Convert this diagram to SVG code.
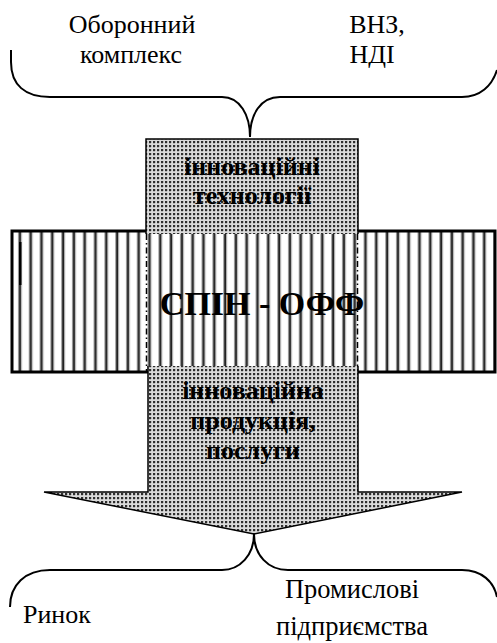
<svg xmlns="http://www.w3.org/2000/svg" width="497" height="643" viewBox="0 0 497 643">
<style>
.lbl{font-family:"Liberation Serif","Times New Roman",serif;font-size:26px;fill:#000;text-anchor:middle}
.bx{font-family:"Liberation Serif","Times New Roman",serif;font-size:26px;font-weight:bold;fill:#000;text-anchor:middle}
.big{font-family:"Liberation Serif","Times New Roman",serif;font-size:34px;font-weight:bold;fill:#000;text-anchor:middle}
.brace{fill:none;stroke:#000;stroke-width:2}
.edge{fill:none;stroke:#000;stroke-width:1.5}
</style>
<defs>
<pattern id="dots" x="0" y="0" width="4" height="4" patternUnits="userSpaceOnUse">
<rect width="4" height="4" fill="#dadada"/>
<rect x="1" y="1" width="2" height="2" fill="#2e2e2e"/>
<rect x="3" y="1" width="0.6" height="2" fill="#a0a0a0"/>
<rect x="1" y="3" width="2" height="0.6" fill="#a0a0a0"/>
</pattern>
<pattern id="stripes" x="12" y="0" width="10.8" height="10" patternUnits="userSpaceOnUse">
<rect width="10.8" height="10" fill="#fff"/>
<rect x="6" y="0" width="1" height="10" fill="#999"/>
<rect x="7" y="0" width="2" height="10" fill="#222"/>
<rect x="9" y="0" width="1" height="10" fill="#aaa"/>
</pattern>
</defs>
<g id="connectors">
<path class="brace" d="M11 50 L11 62 C11 85 25 97 50 97 L222 97 C240 97 250 115 250 137 C250 115 260 97 280 97 L462 97 C480 97 492 86 497 70"/>
<path class="brace" d="M10 607 C10 585 25 570 50 570 L222 570 C240 570 254 555 254 534 C254 555 268 570 288 570 L462 570 C482 570 494 582 497 597"/>
</g>
<g id="band">
<rect x="12" y="231" width="483" height="141" fill="url(#stripes)" stroke="#000" stroke-width="3"/>
<rect x="19" y="242" width="2.5" height="43" fill="#000"/>
<line x1="146.5" y1="234" x2="146.5" y2="372" stroke="#000" stroke-width="1.5" stroke-dasharray="6,3,1.5,3"/>
<line x1="357.5" y1="234" x2="357.5" y2="372" stroke="#000" stroke-width="1.5" stroke-dasharray="6,3,1.5,3"/>
<text class="big" x="262" y="315">СПІН - ОФФ</text>
</g>
<g id="top-box">
<rect x="146" y="139" width="212" height="95" fill="url(#dots)"/>
<path class="edge" d="M146 234 V139 H358 V234"/>
<text class="bx" x="252" y="175">інноваційні</text>
<text class="bx" x="252" y="204">технології</text>
</g>
<g id="bottom-arrow">
<path d="M148 366 V492 H44 L254 534 L462 492 H358 V366 Z" fill="url(#dots)"/>
<path class="edge" d="M148 366 V492 H44 L254 534 L462 492 H358 V366"/>
<text class="bx" x="253" y="399">інноваційна</text>
<text class="bx" x="253" y="429">продукція,</text>
<text class="bx" x="253" y="459">послуги</text>
</g>
<g id="label-oboronnyi"><text class="lbl" x="132" y="33">Оборонний</text><text class="lbl" x="131" y="63">комплекс</text></g>
<g id="label-vnz"><text class="lbl" x="377" y="33">ВНЗ,</text><text class="lbl" x="372" y="63">НДІ</text></g>
<g id="label-rynok"><text class="lbl" x="23" y="623" style="text-anchor:start">Ринок</text></g>
<g id="label-pidpryemstva"><text class="lbl" x="352" y="598" style="font-size:26.5px">Промислові</text><text class="lbl" x="352" y="635" style="font-size:26.5px">підприємства</text></g>
</svg>
